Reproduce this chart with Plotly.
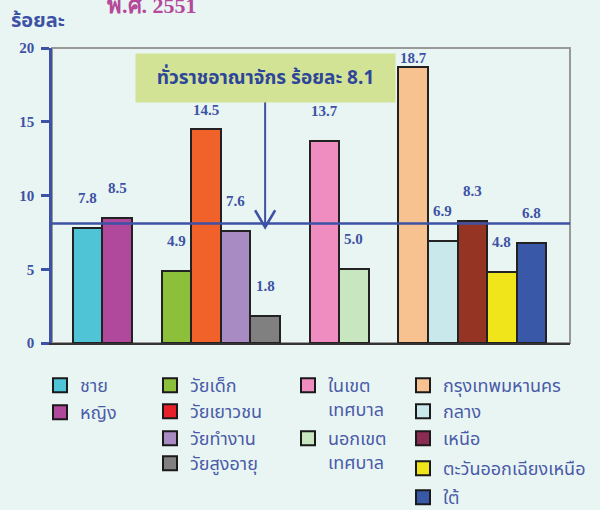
import plotly.graph_objects as go

# ---------------- data ----------------
groups = [
    ["ชาย", "หญิง"],
    ["วัยเด็ก", "วัยเยาวชน", "วัยทำงาน", "วัยสูงอายุ"],
    ["ในเขตเทศบาล", "นอกเขตเทศบาล"],
    ["กรุงเทพมหานคร", "กลาง", "เหนือ", "ตะวันออกเฉียงเหนือ", "ใต้"],
]
values = [
    [7.8, 8.5],
    [4.9, 14.5, 7.6, 1.8],
    [13.7, 5.0],
    [18.7, 6.9, 8.3, 4.8, 6.8],
]
legend_labels = [
    ["ชาย", "หญิง"],
    ["วัยเด็ก", "วัยเยาวชน", "วัยทำงาน", "วัยสูงอายุ"],
    ["ในเขต<br>เทศบาล", "นอกเขต<br>เทศบาล"],
    ["กรุงเทพมหานคร", "กลาง", "เหนือ", "ตะวันออกเฉียงเหนือ", "ใต้"],
]
national_value = 8.1
title_text = "พ.ศ. 2551"
y_title = "ร้อยละ"
box_text = "ทั่วราชอาณาจักร ร้อยละ 8.1"
y_ticks = [0, 5, 10, 15, 20]

# ---------------- style ----------------
bar_colors = [
    ["#4EC4D6", "#B0499C"],
    ["#8CBF3A", "#F0622A", "#A98BC4", "#808080"],
    ["#F08DC0", "#C8E6C0"],
    ["#F8C190", "#C8E8EC", "#963424", "#F0E41A", "#3A58A8"],
]
legend_colors = [
    ["#4EC4D6", "#B0499C"],
    ["#8CBF3A", "#E8202A", "#A98BC4", "#808080"],
    ["#F08DC0", "#C8E6C0"],
    ["#F8C190", "#C8E8EC", "#8B2A52", "#F0E41A", "#3A58A8"],
]
# legend layout (pixel): column left edge, row centre of each entry
legend_col_x = [40, 150, 288, 403]
legend_row_y = [
    [385, 412],
    [385, 411, 438, 463],
    [385, 438],
    [385, 411, 438, 468, 497],
]
label_shift = {14.5: 19, 18.7: 9}
BG = "#E9F5F3"
BLUE = "#3D52A4"
TXT = "#4A5BA8"
THAI = "Noto Sans Thai, Loma, Garuda, Tahoma, sans-serif"
SERIF = "Liberation Serif, Times New Roman, serif"
PL, PR, PT, PB = 52, 570, 48, 343   # plot area in pixels
PW, PH = PR - PL, PB - PT

fig = go.Figure()

pos = 0
legend_layouts = {}
leg_n = 0
for gi, (cats, vals) in enumerate(zip(groups, values)):
    xs = list(range(pos, pos + len(cats)))
    pos += len(cats) + 1
    for x, c, v, col in zip(xs, cats, vals, bar_colors[gi]):
        fig.add_trace(go.Bar(
            x=[x], y=[v], name=c, width=1.0,
            marker=dict(color=col, line=dict(color="#222222", width=2)),
            showlegend=False, hoverinfo="y",
        ))
        fig.add_annotation(
            x=x, y=v, text=f"{v:.1f}", showarrow=False, yanchor="middle",
            yshift=label_shift.get(v, 30),
            font=dict(family=SERIF, size=15, color=BLUE, weight="bold"),
        )
    for lab, lc, ry in zip(legend_labels[gi], legend_colors[gi], legend_row_y[gi]):
        leg_n += 1
        lid = "legend" if leg_n == 1 else f"legend{leg_n}"
        fig.add_trace(go.Scatter(
            x=[None], y=[None], mode="markers", name=lab,
            marker=dict(symbol="square", size=14, color=lc,
                        line=dict(color="#1A1A1A", width=2)),
            legend=lid,
        ))
        legend_layouts[lid] = dict(
            bgcolor="rgba(0,0,0,0)", font=dict(family=THAI, size=18, color=TXT),
            itemwidth=30, yanchor="top", xanchor="left", valign="top",
            itemclick=False, itemdoubleclick=False,
            x=(legend_col_x[gi] - PL) / PW, y=(PB - (ry - 18)) / PH,
        )

# national reference line
fig.add_hline(y=national_value, line=dict(color=BLUE, width=2.5))

# annotation box
arrow_x = 6
fig.add_annotation(
    x=arrow_x, y=17.97, xref="x", yref="y", text=box_text, showarrow=False,
    bgcolor="#D3E396", width=257, height=46,
    font=dict(family=THAI, size=19, color="#2E4699", weight="bold"),
)
fig.add_shape(type="line", x0=arrow_x, x1=arrow_x, y0=16.4, y1=7.85,
              line=dict(color=BLUE, width=2))
fig.add_shape(type="path",
              path=f"M {arrow_x-0.34},9.0 L {arrow_x},7.85 L {arrow_x+0.34},9.0",
              line=dict(color=BLUE, width=2.5))

# frame (top & right gray)
fig.add_shape(type="rect", xref="paper", yref="paper", x0=0, x1=1, y0=0, y1=1,
              line=dict(color="#999999", width=2), layer="below")

# titles
fig.add_annotation(x=(152 - PL) / PW, y=(PB - 5) / PH, xref="paper", yref="paper",
                   text=title_text, showarrow=False, xanchor="center", yanchor="middle",
                   font=dict(family=SERIF, size=22, color="#B5489A", weight="bold"))
fig.add_annotation(x=(38 - PL) / PW, y=(PB - 21) / PH, xref="paper", yref="paper",
                   text=y_title, showarrow=False, xanchor="center", yanchor="middle",
                   font=dict(family=THAI, size=20, color=BLUE, weight="bold"))

fig.update_layout(
    width=600, height=510,
    margin=dict(l=PL, r=600 - PR, t=PT, b=510 - PB, autoexpand=False),
    paper_bgcolor=BG, plot_bgcolor=BG,
    bargap=0, showlegend=True,
    xaxis=dict(range=[-1.2, 16.3], showticklabels=False, ticks="", showgrid=False,
               zeroline=False, showline=True, linecolor="#333333", linewidth=2),
    yaxis=dict(range=[0, 20], tickvals=y_ticks, showgrid=False, zeroline=False,
               showline=True, linecolor=BLUE, linewidth=2.5, ticks="outside",
               ticklen=8, tickwidth=2.5, tickcolor=BLUE, ticklabelstandoff=4,
               tickfont=dict(family=SERIF, size=15, color=BLUE, weight="bold")),
    **legend_layouts,
)

fig.write_html("out.html", config={"displayModeBar": False},
               post_script="document.body.style.margin='0';document.body.style.padding='0';"
                           "document.body.style.overflow='hidden';window.dispatchEvent(new Event('resize'));")
